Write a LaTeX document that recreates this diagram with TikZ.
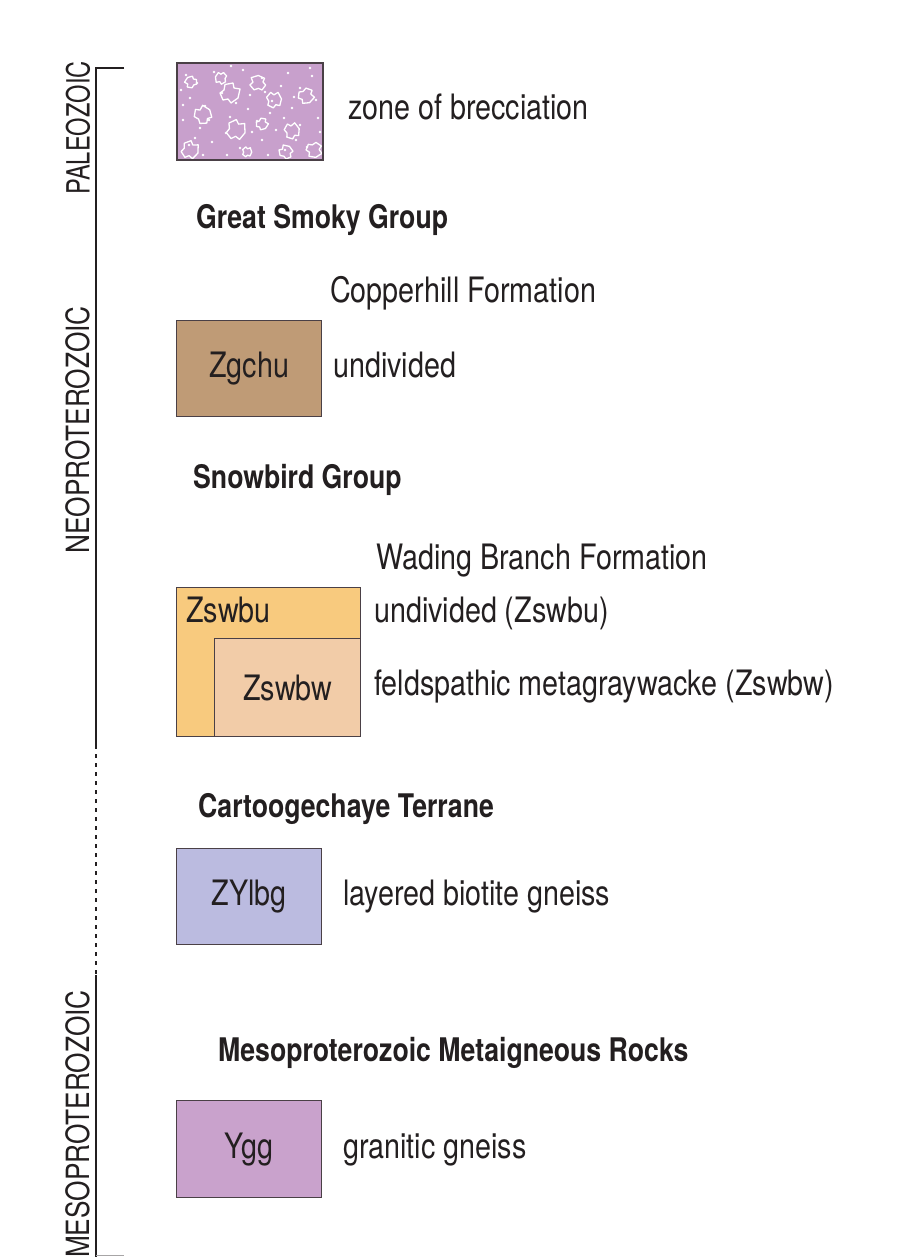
\documentclass[tikz,border=0pt]{standalone}
\usepackage{fontspec}
\setmainfont{TeX Gyre Heros}[FakeStretch=0.82]
\begin{document}
\begin{tikzpicture}[x=1pt,y=-1pt,
  txt/.style={anchor=base west,inner sep=0pt,font=\fontsize{35}{38}\selectfont,text=ink},
  head/.style={anchor=base west,inner sep=0pt,font=\fontsize{32.5}{36}\selectfont\bfseries,text=ink},
  era/.style={anchor=center,inner sep=0pt,rotate=90,font=\fontsize{32}{34}\selectfont,text=ink},
  unit/.style={draw=boxline,line width=1.4pt,anchor=north west,inner sep=0pt},
  code/.style={inner sep=0pt,font=\fontsize{35}{38}\selectfont,text=ink},
  bracket/.style={line width=2pt,draw=ink}]
\definecolor{ink}{HTML}{231F20}
\definecolor{boxline}{HTML}{4A4046}
\definecolor{brec}{HTML}{C8A0CC}
\definecolor{zgchu}{HTML}{BF9B76}
\definecolor{zswbu}{HTML}{F8CA7E}
\definecolor{zswbw}{HTML}{F2CCA8}
\definecolor{zylbg}{HTML}{BBBBE0}
\definecolor{ygg}{HTML}{C9A2CC}
\useasboundingbox[fill=white] (0,0) rectangle (904,1257);

% era bracket
\coordinate (btop) at (124,68);
\coordinate (bcorner) at (96,68);
\coordinate (bdot1) at (96,745);
\coordinate (bdot2) at (96,975);
\coordinate (bbot) at (96,1257);
\coordinate (bbtick) at (124,1255);
\draw[bracket] (btop) -- (bcorner) -- (bdot1);
\draw[bracket,dash pattern=on 4pt off 5pt] (bdot1) -- (bdot2);
\draw[bracket] (bdot2) -- (bbot);
\draw[line width=1pt,draw=ink!40] (bbot |- bbtick) -- (bbtick);

\node[era,xscale=0.9] (paleo) at (78,128) {PALEOZOIC};
\node[era] (neo) at (78,430) {NEOPROTEROZOIC};
\node[era] (meso) at (78,1124) {MESOPROTEROZOIC};

% zone of brecciation
\node[unit,fill=brec,minimum width=146pt,minimum height=97pt] (brecbox) at (177,63) {};
\begin{scope}
\clip (177,63) rectangle (323,160);
\foreach \px/\py in {186/75,197/83,214/72,243/70,262/78,288/73,312/76,300/88,
  190/98,205/106,222/93,250/95,272/101,292/108,316/100,183/120,200/128,230/117,
  257/121,276/130,300/125,318/118,189/145,212/142,240/148,262/140,285/150,
  307/147,226/133,248/109,281/86,195/138,270/113,181/90,209/120,236/103,
  296/140,268/155,203/155,320/132,252/132,284/118,227/155,310/68,231/66,
  183/105,265/92,294/97}
  \fill[white] (\px,\py) circle (1.4pt);
\foreach \cx/\cy/\r/\a in {230/93/10/0,274/100/8/40,306/96/8/-30,203/115/9/70,
  236/130/10/15,262/124/6/-20,292/131/8/50,190/150/9/10,314/150/8/-45,
  258/83/8/120,221/78/6/200,286/152/7/90,247/152/5/30,191/82/6/160}
  \draw[white,line width=1.3pt,line join=round,rotate around={\a:(\cx,\cy)}]
    (\cx-\r,\cy) -- (\cx-0.6*\r,\cy-0.3*\r) -- (\cx-0.5*\r,\cy-0.85*\r) -- (\cx+0.3*\r,\cy-\r)
    -- (\cx+0.4*\r,\cy-0.5*\r) -- (\cx+\r,\cy-0.4*\r)
    -- (\cx+0.8*\r,\cy+0.5*\r) -- (\cx+0.1*\r,\cy+\r) -- (\cx-0.2*\r,\cy+0.6*\r) -- (\cx-0.7*\r,\cy+0.7*\r) -- cycle;
\end{scope}
\draw[boxline,line width=1.4pt] (177,63) rectangle (323,160);
\node[txt] (brectxt) at (348,120) {zone of brecciation};

% Great Smoky Group
\node[head] (gsg) at (196,229) {Great Smoky Group};
\node[txt] (copper) at (330,302) {Copperhill Formation};
\node[unit,fill=zgchu,minimum width=145pt,minimum height=96pt] (zgchubox) at (176,320) {};
\node[code] (zgchucode) at (zgchubox.center) {Zgchu};
\node[txt] (undiv1) at (333,377) {undivided};

% Snowbird Group
\node[head] (snow) at (193,488) {Snowbird Group};
\node[txt] (wading) at (376,569) {Wading Branch Formation};
\node[unit,fill=zswbu,minimum width=184pt,minimum height=149pt] (zswbubox) at (176,587) {};
\node[unit,fill=zswbw,minimum width=146pt,minimum height=98pt] (zswbwbox) at (214,638) {};
\node[code,anchor=base west] (zswbucode) at (186,622) {Zswbu};
\node[code] (zswbwcode) at (zswbwbox.center) {Zswbw};
\node[txt] (undiv2) at (374,622) {undivided (Zswbu)};
\node[txt] (feld) at (374,695) {feldspathic metagraywacke (Zswbw)};

% Cartoogechaye Terrane
\node[head] (cart) at (198,817) {Cartoogechaye Terrane};
\node[unit,fill=zylbg,minimum width=145pt,minimum height=96pt] (zylbgbox) at (176,848) {};
\node[code] (zylbgcode) at (zylbgbox.center) {ZYlbg};
\node[txt] (layered) at (343,905) {layered biotite gneiss};

% Mesoproterozoic Metaigneous Rocks
\node[head] (mmr) at (218,1061) {Mesoproterozoic Metaigneous Rocks};
\node[unit,fill=ygg,minimum width=145pt,minimum height=97pt] (yggbox) at (176,1100) {};
\node[code] (yggcode) at (yggbox.center) {Ygg};
\node[txt] (granitic) at (343,1158) {granitic gneiss};
\end{tikzpicture}
\end{document}
